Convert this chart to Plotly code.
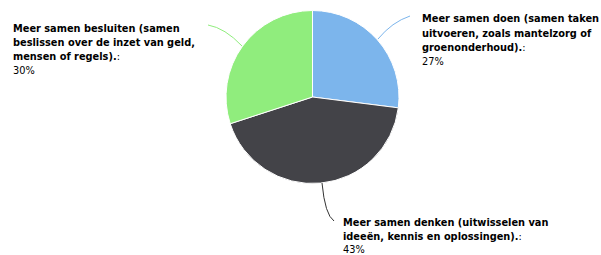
import plotly.graph_objects as go

categories = [
    "Meer samen doen (samen taken uitvoeren, zoals mantelzorg of groenonderhoud).",
    "Meer samen denken (uitwisselen van ideeën, kennis en oplossingen).",
    "Meer samen besluiten (samen beslissen over de inzet van geld, mensen of regels).",
]
values = [27, 43, 30]
colors = ["#7cb5ec", "#434348", "#90ed7d"]
label_lines = [
    ["Meer samen doen (samen taken", "uitvoeren, zoals mantelzorg of", "groenonderhoud)."],
    ["Meer samen denken (uitwisselen van", "ideeën, kennis en oplossingen)."],
    ["Meer samen besluiten (samen", "beslissen over de inzet van geld,", "mensen of regels)."],
]

W, H = 601, 255

def px(x):
    return x / W

def py(y):
    return 1 - y / H

fig = go.Figure(go.Pie(
    labels=categories,
    values=values,
    sort=False,
    direction="clockwise",
    rotation=0,
    marker=dict(colors=colors, line=dict(color="#ffffff", width=1)),
    textinfo="none",
    hoverinfo="label+percent",
    domain=dict(x=[px(226), px(399)], y=[py(184), py(10)]),
    showlegend=False,
))

# label block: left x, first line centre y, line spacing
label_pos = [(421, 19, 14.3), (342, 222.5, 13.5), (12, 28, 14.3)]
font = dict(family="DejaVu Sans, Verdana, sans-serif", size=9.8, color="#000000")
annotations = []
for lines, v, (x, y, lh) in zip(label_lines, values, label_pos):
    texts = [f"<b>{l}</b>" for l in lines[:-1]] + [f"<b>{lines[-1]}</b>:", f"{v}%"]
    for i, t in enumerate(texts):
        annotations.append(dict(
            x=px(x), y=py(y + i * lh), xref="paper", yref="paper",
            xanchor="left", yanchor="middle", align="left",
            text=t, showarrow=False, font=font,
            xshift=-1,
        ))

connectors = [
    ((378, 39), (392, 22), (410, 16), colors[0]),
    ((322, 183), (325, 215), (334, 221), "#333333"),
    ((242, 46), (225, 28), (208, 25), colors[2]),
]
shapes = []
for (x0, y0), (cx, cy), (x1, y1), c in connectors:
    shapes.append(dict(
        type="path", xref="paper", yref="paper",
        path=f"M {px(x0)},{py(y0)} Q {px(cx)},{py(cy)} {px(x1)},{py(y1)}",
        line=dict(color=c, width=1),
    ))

fig.update_layout(
    width=W, height=H,
    margin=dict(l=0, r=0, t=0, b=0),
    paper_bgcolor="#ffffff",
    plot_bgcolor="#ffffff",
    annotations=annotations,
    shapes=shapes,
)

fig.write_html("out.html", config={"displayModeBar": False},
               post_script="document.body.style.margin='0';")
